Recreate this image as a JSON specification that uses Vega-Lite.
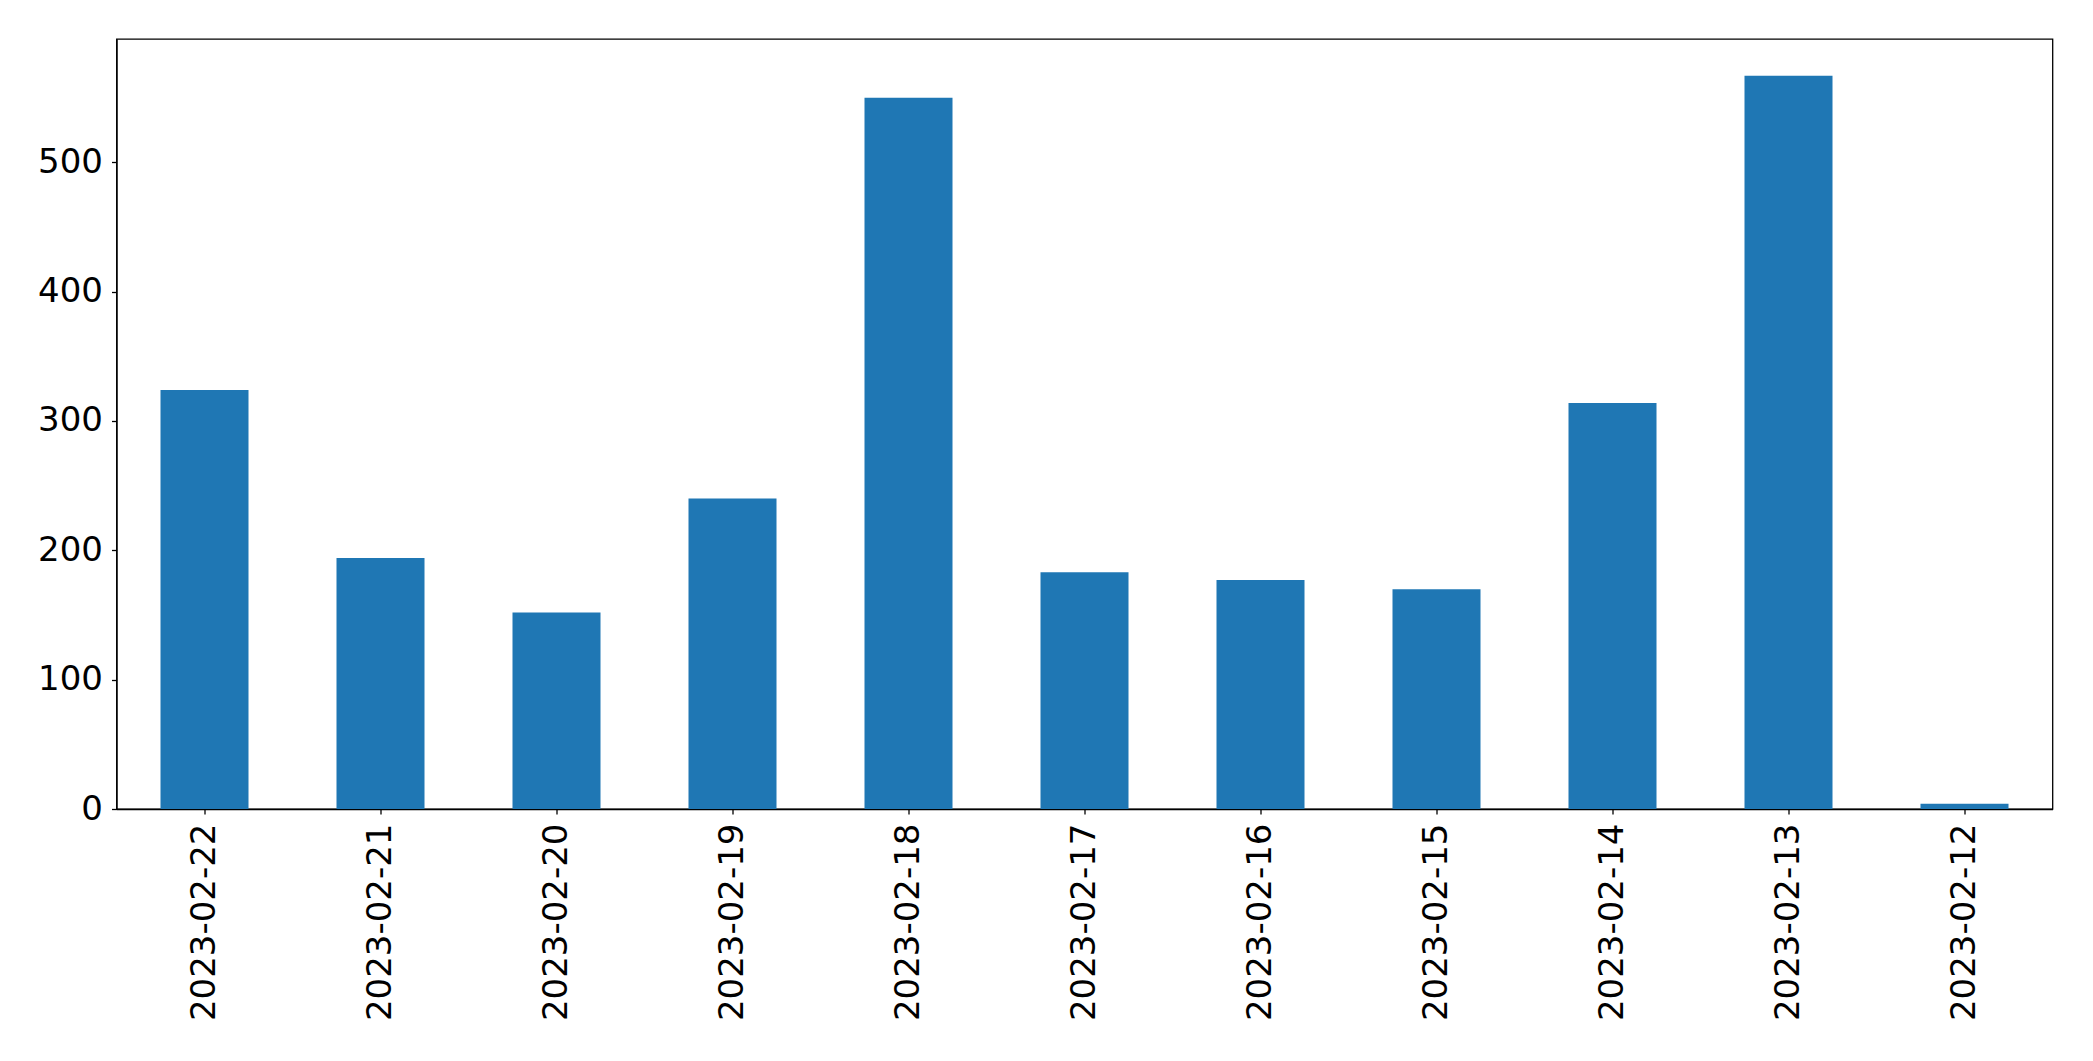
{
  "$schema": "https://vega.github.io/schema/vega-lite/v6.json",
  "autosize": {"type": "none"},
  "width": 1936,
  "height": 770,
  "padding": {"left": 116.5, "top": 39, "right": 40.5, "bottom": 252},
  "background": "white",
  "config": {
    "view": {"stroke": "black", "strokeWidth": 1.3},
    "font": "DejaVu Sans",
    "axis": {
      "labelFont": "DejaVu Sans",
      "labelFontSize": 34,
      "labelLimit": 0,
      "labelColor": "black",
      "domainColor": "black",
      "domainWidth": 1.3,
      "tickColor": "black",
      "tickWidth": 1.3,
      "tickSize": 5,
      "labelPadding": 9,
      "grid": false,
      "title": null
    }
  },
  "data": {
    "values": [
      {"date": "2023-02-22", "count": 324},
      {"date": "2023-02-21", "count": 194},
      {"date": "2023-02-20", "count": 152},
      {"date": "2023-02-19", "count": 240},
      {"date": "2023-02-18", "count": 550},
      {"date": "2023-02-17", "count": 183},
      {"date": "2023-02-16", "count": 177},
      {"date": "2023-02-15", "count": 170},
      {"date": "2023-02-14", "count": 314},
      {"date": "2023-02-13", "count": 567},
      {"date": "2023-02-12", "count": 4}
    ]
  },
  "mark": {"type": "bar", "color": "#1f77b4"},
  "encoding": {
    "x": {
      "field": "date",
      "type": "nominal",
      "sort": null,
      "scale": {"paddingInner": 0.5, "paddingOuter": 0.25},
      "axis": {"labelAngle": -90, "labelAlign": "right", "labelBaseline": "middle"}
    },
    "y": {
      "field": "count",
      "type": "quantitative",
      "scale": {"domain": [0, 595.35], "nice": false, "zero": true},
      "axis": {"values": [0, 100, 200, 300, 400, 500]}
    }
  }
}
